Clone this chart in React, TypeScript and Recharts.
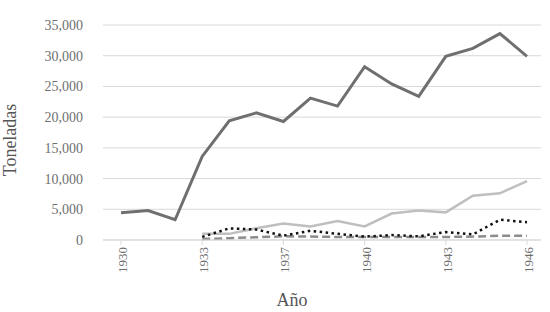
import React from 'react';
import { LineChart, Line, XAxis, YAxis, CartesianGrid, Label } from 'recharts';

const years = ['1930', '1931', '1932', '1933', '1934', '1935', '1937', '1938', '1939', '1940', '1941', '1942', '1943', '1944', '1945', '1946'];
const seriesMain = [4450, 4800, 3300, 13600, 19400, 20700, 19300, 23100, 21800, 28200, 25400, 23400, 29900, 31200, 33600, 29900];
const seriesLight = [null, null, null, 1000, 1000, 1900, 2700, 2200, 3100, 2200, 4300, 4800, 4500, 7200, 7600, 9600];
const seriesDotted = [null, null, null, 500, 1900, 1700, 700, 1500, 1000, 550, 800, 600, 1300, 900, 3300, 2900];
const seriesDashed = [null, null, null, 150, 300, 450, 600, 550, 500, 500, 500, 500, 500, 550, 700, 700];
const yTicks = [0, 5000, 10000, 15000, 20000, 25000, 30000, 35000];

const data = years.map((y, i) => ({
  year: y,
  main: seriesMain[i],
  light: seriesLight[i],
  dotted: seriesDotted[i],
  dashed: seriesDashed[i],
}));

const FONT = '"Liberation Serif", "DejaVu Serif", serif';
const TEXT = '#6f6f6f';

const XTick = (props: any) => {
  const { x, y, payload } = props;
  return (
    <g transform={`translate(${x},${y})`}>
      <text x={0} y={0} dy={6} textAnchor="end" transform="rotate(-90)" fill={TEXT} fontSize={13} fontFamily={FONT}>
        {payload.value}
      </text>
    </g>
  );
};

const YTick = (props: any) => {
  const { x, y, payload } = props;
  return (
    <text x={x} y={y} dy={5} textAnchor="end" fill={TEXT} fontSize={14} fontFamily={FONT}>
      {Number(payload.value).toLocaleString('en-US')}
    </text>
  );
};

export default function App() {
  return (
    <div style={{ position: 'absolute', left: 0, top: 0, width: 550, height: 312, background: '#fff' }}>
      <LineChart width={550} height={312} data={data} margin={{ top: 25, right: 9, bottom: 0, left: 0 }}>
        <CartesianGrid vertical={false} stroke="#d9d9d9" strokeWidth={1} />
        <XAxis
          dataKey="year"
          interval={2}
          padding={{ left: 18, right: 14 }}
          axisLine={{ stroke: '#d9d9d9' }}
          tickLine={{ stroke: '#d9d9d9' }}
          tickSize={5}
          tickMargin={2}
          tick={<XTick />}
          height={72}
        >
          <Label
            content={() => (
              <text x={292} y={306} textAnchor="middle" fill="#555" fontSize={18} fontFamily={FONT}>
                Año
              </text>
            )}
          />
        </XAxis>
        <YAxis
          width={103}
          domain={[0, 35000]}
          ticks={yTicks}
          interval={0}
          axisLine={false}
          tickLine={false}
          tickMargin={14}
          tick={<YTick />}
        >
          <Label
            content={() => (
              <text x={16} y={140} transform="rotate(-90 16 140)" textAnchor="middle" fill="#555" fontSize={18} fontFamily={FONT}>
                Toneladas
              </text>
            )}
          />
        </YAxis>
        <Line dataKey="light" stroke="#bfbfbf" strokeWidth={2.5} dot={false} isAnimationActive={false} />
        <Line dataKey="dashed" stroke="#8c8c8c" strokeWidth={2.5} strokeDasharray="8 4" dot={false} isAnimationActive={false} />
        <Line dataKey="dotted" stroke="#111" strokeWidth={2.5} strokeDasharray="2.5 3.5" dot={false} isAnimationActive={false} />
        <Line dataKey="main" stroke="#6f6f6f" strokeWidth={3} dot={false} isAnimationActive={false} />
      </LineChart>
    </div>
  );
}
